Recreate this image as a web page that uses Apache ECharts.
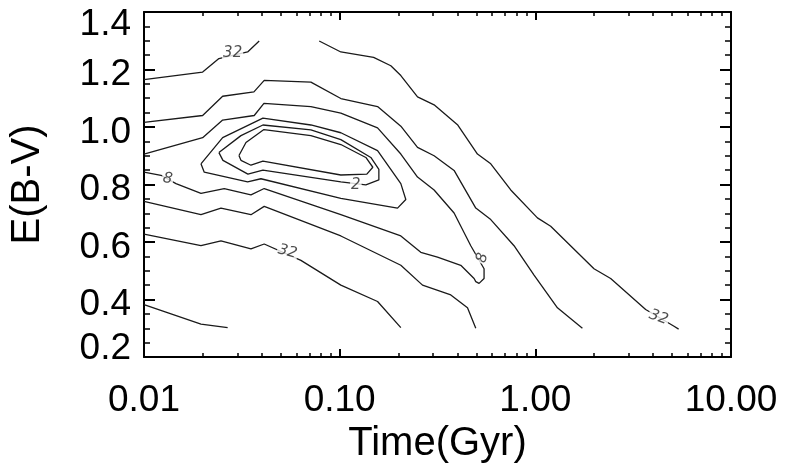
<!DOCTYPE html>
<html>
<head>
<meta charset="utf-8">
<script src="https://cdn.jsdelivr.net/npm/echarts@6/dist/echarts.min.js"></script>
<style>
html,body{margin:0;padding:0;background:#fff;}
#chart{width:785px;height:469px;}
</style>
</head>
<body>
<div id="chart"></div>
<script>
// ---- tick values ----
const timeMajorTicks = [0.01, 0.1, 1, 10];
const timeMinorTicks = [0.02,0.03,0.04,0.05,0.06,0.07,0.08,0.09,
                        0.2,0.3,0.4,0.5,0.6,0.7,0.8,0.9,
                        2,3,4,5,6,7,8,9];
// ---- contour lines: [Time (Gyr), E(B-V)] ----
const contour1 = [[0.03057,0.901],[0.0332,0.946],[0.04101,0.991],[0.07127,0.970],[0.1014,0.939],[0.1361,0.894],[0.1477,0.860],[0.1377,0.836],[0.1014,0.833],[0.04053,0.881],[0.03521,0.867],[0.0313,0.884],[0.03057,0.901]];
const contour2 = [[0.02415,0.911],[0.0313,0.970],[0.04053,1.007],[0.07127,0.990],[0.1014,0.956],[0.1443,0.894],[0.1586,0.853],[0.1586,0.816],[0.1361,0.799],[0.1014,0.809],[0.04053,0.850],[0.03397,0.836],[0.02532,0.884],[0.02415,0.911]];
const contour4 = [[0.01955,0.872],[0.02523,0.963],[0.04053,1.031],[0.07127,1.007],[0.1014,0.980],[0.1562,0.918],[0.2054,0.803],[0.2178,0.748],[0.1976,0.718],[0.1014,0.752],[0.03959,0.820],[0.03385,0.809],[0.02032,0.843],[0.01955,0.872]];
const contour8 = [[0.01,0.906],[0.01994,0.963],[0.02523,1.024],[0.03659,1.040],[0.04101,1.082],[0.07127,1.071],[0.1014,1.048],[0.1562,0.997],[0.2054,0.906],[0.25,0.826],[0.3038,0.781],[0.3844,0.701],[0.4678,0.587],[0.547,0.507],[0.547,0.473],[0.5158,0.456],[0.4962,0.462],[0.4864,0.473],[0.4159,0.519],[0.3162,0.547],[0.2598,0.564],[0.2054,0.621],[0.1014,0.695],[0.04115,0.786],[0.03521,0.764],[0.0257,0.786],[0.01955,0.769],[0.01457,0.803],[0.01221,0.832],[0.01,0.843]];
const contour16Upper = [[0.01,1.016],[0.01994,1.040],[0.02523,1.107],[0.03646,1.122],[0.04115,1.162],[0.07127,1.156],[0.1014,1.099],[0.1562,1.071],[0.2054,1.003],[0.25,0.929],[0.3038,0.900],[0.3844,0.849],[0.4962,0.718],[0.5918,0.678],[0.7783,0.587],[0.9849,0.485],[1.297,0.371],[1.74,0.300]];
const contour16Lower = [[0.01,0.741],[0.01955,0.695],[0.02474,0.718],[0.03521,0.695],[0.04115,0.724],[0.1014,0.621],[0.2054,0.519],[0.2651,0.450],[0.3698,0.416],[0.4501,0.371],[0.4962,0.300]];
const contour32Upper = [[0.01,1.165],[0.01994,1.191],[0.02415,1.238],[0.03385,1.261],[0.03879,1.299]];
const contour32Right = [[0.0786,1.299],[0.1014,1.261],[0.1491,1.242],[0.1826,1.213],[0.2054,1.179],[0.25,1.105],[0.3038,1.077],[0.4,1.008],[0.5061,0.906],[0.5918,0.872],[0.7488,0.781],[1.025,0.684],[1.198,0.655],[1.994,0.507],[2.427,0.473],[3.663,0.365],[5.09,0.308],[5.4,0.297]];
const contour32Lower = [[0.01,0.627],[0.01955,0.587],[0.02474,0.604],[0.03521,0.576],[0.04115,0.593],[0.06337,0.536],[0.1014,0.450],[0.1562,0.393],[0.2054,0.302]];
const contour64 = [[0.01,0.382],[0.01955,0.314],[0.02676,0.302]];
// ---- contour labels: [Time, E(B-V), text] ----
const contourLabels = [[0.02838,1.256,'32'],[0.05418,0.566,'32'],[4.268,0.338,'32'],[0.01321,0.820,'8'],[0.5368,0.545,'8'],[0.121,0.797,'2']];
const labelRotate = [0, -15, -20, -10, 75, 0];

const FONT = 'Liberation Sans, Arial, Helvetica, sans-serif';
const lineSeries = [contour1, contour2, contour4, contour8, contour16Upper, contour16Lower,
                    contour32Upper, contour32Right, contour32Lower, contour64].map(d => ({
  type: 'line', data: d, showSymbol: false, symbol: 'none', silent: true,
  xAxisIndex: 0, yAxisIndex: 0,
  lineStyle: { color: '#1a1a1a', width: 1.3 }, z: 2
}));

const labelSeries = {
  type: 'scatter', xAxisIndex: 0, yAxisIndex: 0, symbolSize: 1, silent: true,
  itemStyle: { color: 'rgba(255,255,255,0)' }, z: 5,
  data: contourLabels.map((d, i) => ({ value: [d[0], d[1]], name: d[2], label: { rotate: labelRotate[i] } })),
  label: { show: true, position: 'inside', formatter: p => p.name, backgroundColor: '#fff',
           padding: [0, 1], fontSize: 15, fontStyle: 'italic', color: '#222', fontFamily: 'DejaVu Sans' }
};

const frameLine = { show: true, lineStyle: { color: '#000', width: 2 } };
function xAx(pos, major, withLabels) {
  const ax = {
    type: 'log', logBase: 10, min: 0.01, max: 10, position: pos,
    axisLine: major ? frameLine : { show: false },
    axisTick: { show: true, inside: true, length: major ? 8 : 4,
                customValues: major ? timeMajorTicks : timeMinorTicks,
                lineStyle: { color: '#000', width: major ? 2 : 1.5 } },
    axisLabel: { show: false },
    splitLine: { show: false }
  };
  if (withLabels) {
    ax.axisLabel = { show: true, customValues: timeMajorTicks, margin: 25,
      formatter: v => Number(v).toFixed(2), fontSize: 37, color: '#000', fontFamily: FONT };
    ax.name = 'Time(Gyr)';
    ax.nameLocation = 'middle';
    ax.nameGap = 67;
    ax.nameTextStyle = { fontSize: 40, color: '#000', fontFamily: FONT };
  }
  return ax;
}
function yAx(pos, withLabels) {
  const ax = {
    type: 'value', min: 0.2, max: 1.4, interval: 0.2, position: pos,
    axisLine: frameLine,
    axisTick: { show: true, inside: true, length: 11, lineStyle: { color: '#000', width: 2 } },
    minorTick: { show: true, splitNumber: 4, length: 6, lineStyle: { color: '#000', width: 1.5 } },
    axisLabel: { show: false },
    splitLine: { show: false }, minorSplitLine: { show: false }
  };
  if (withLabels) {
    const base = { fontSize: 37, color: '#000', fontFamily: FONT };
    ax.axisLabel = { show: true, margin: 13,
      formatter: v => { const s = Number(v).toFixed(1);
        if (v > 1.39) return '{t|' + s + '}';
        if (v < 0.21) return '{b|' + s + '}';
        return '{n|' + s + '}'; },
      rich: { n: Object.assign({ padding: [11, 0, 0, 0] }, base),
              t: Object.assign({ padding: [26, 0, 0, 0] }, base),
              b: Object.assign({ padding: [0, 0, 16, 0] }, base) } };
    ax.name = 'E(B-V)';
    ax.nameLocation = 'middle';
    ax.nameGap = 96;
    ax.nameRotate = 90;
    ax.nameTextStyle = { fontSize: 40, color: '#000', fontFamily: FONT };
  }
  return ax;
}

const chart = echarts.init(document.getElementById('chart'), null, { renderer: 'canvas' });
chart.setOption({
  animation: false,
  backgroundColor: '#fff',
  grid: { left: 143, right: 54, top: 12, bottom: 106 },
  xAxis: [xAx('bottom', true, true), xAx('bottom', false, false), xAx('top', true, false), xAx('top', false, false)],
  yAxis: [yAx('left', true), yAx('right', false)],
  series: lineSeries.concat([labelSeries])
});
</script>
</body>
</html>
